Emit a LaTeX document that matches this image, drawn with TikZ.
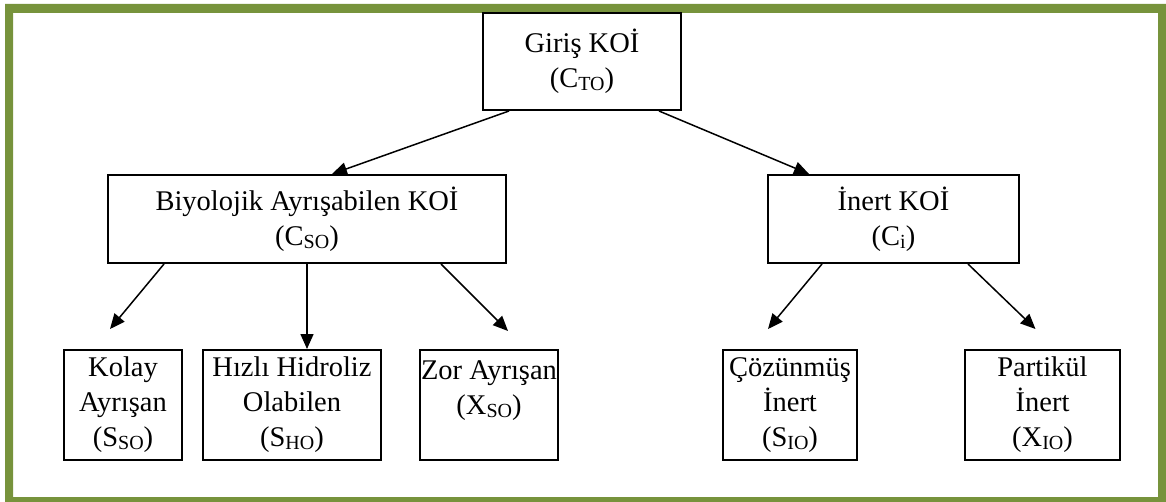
\documentclass[tikz,border=0pt]{standalone}
\usepackage{fontspec}
\setmainfont{Liberation Serif}
\usetikzlibrary{arrows.meta}
\newcommand{\lowsub}[1]{\raisebox{-3pt}{\fontsize{20}{20}\selectfont #1}}

\begin{document}
\begin{tikzpicture}[x=1pt,y=-1pt,
			koi/.style={draw,line width=2pt,rectangle,align=center,inner sep=0pt,
				font=\fontsize{28.5}{35}\selectfont},
			arr/.style={line width=1.5pt,-{Triangle[length=15pt,width=13pt]}}
		]
		\useasboundingbox (0,0) rectangle (1166,502);
		\fill[color={rgb,255:red,119;green,147;blue,60},even odd rule]
			(5,4) rectangle (1166,502) (13,13) rectangle (1158,497);

		\node[koi,minimum width=198pt,minimum height=97pt] (CTO) at (582,61.5) {Giriş KOİ\\(C\lowsub{TO})};
		\node[koi,minimum width=398pt,minimum height=88pt] (CSO) at (307,219) {Biyolojik Ayrışabilen KOİ\\(C\lowsub{SO})};
		\node[koi,minimum width=251pt,minimum height=88pt] (Ci) at (893.5,219) {İnert KOİ\\(C\lowsub{i})};

		\node[koi,minimum width=118pt,minimum height=110pt] (SSO) at (123,405) {Kolay\\Ayrışan\\(S\lowsub{SO})};
		\node[koi,minimum width=178pt,minimum height=110pt] (SHO) at (292,405) {Hızlı Hidroliz\\Olabilen\\(S\lowsub{HO})};
		\node[koi,minimum width=138pt,minimum height=110pt] (XSO) at (489,405) {Zor Ayrışan\\(X\lowsub{SO})\\\mbox{}};
		\node[koi,minimum width=134pt,minimum height=110pt] (SIO) at (790,405) {Çözünmüş\\İnert\\(S\lowsub{IO})};
		\node[koi,minimum width=155pt,minimum height=110pt] (XIO) at (1042.5,405) {Partikül\\İnert\\(X\lowsub{IO})};

		\draw[arr] ([xshift=27pt]CTO.south west) -- ([xshift=25pt]CSO.north);
		\draw[arr] ([xshift=-23pt]CTO.south east) -- ([xshift=42pt]Ci.north west);

		\draw[arr] ([xshift=57pt]CSO.south west) -- ([xshift=-13pt,yshift=20pt]SSO.north);
		\draw[arr] (CSO.south) -- (CSO.south |- SHO.north);
		\draw[arr] ([xshift=-66pt]CSO.south east) -- ([xshift=19pt,yshift=18pt]XSO.north);

		\draw[arr] ([xshift=55pt]Ci.south west) -- ([xshift=-22pt,yshift=20pt]SIO.north);
		\draw[arr] ([xshift=-52pt]Ci.south east) -- ([xshift=-7pt,yshift=20pt]XIO.north);
	\end{tikzpicture}
\end{document}
